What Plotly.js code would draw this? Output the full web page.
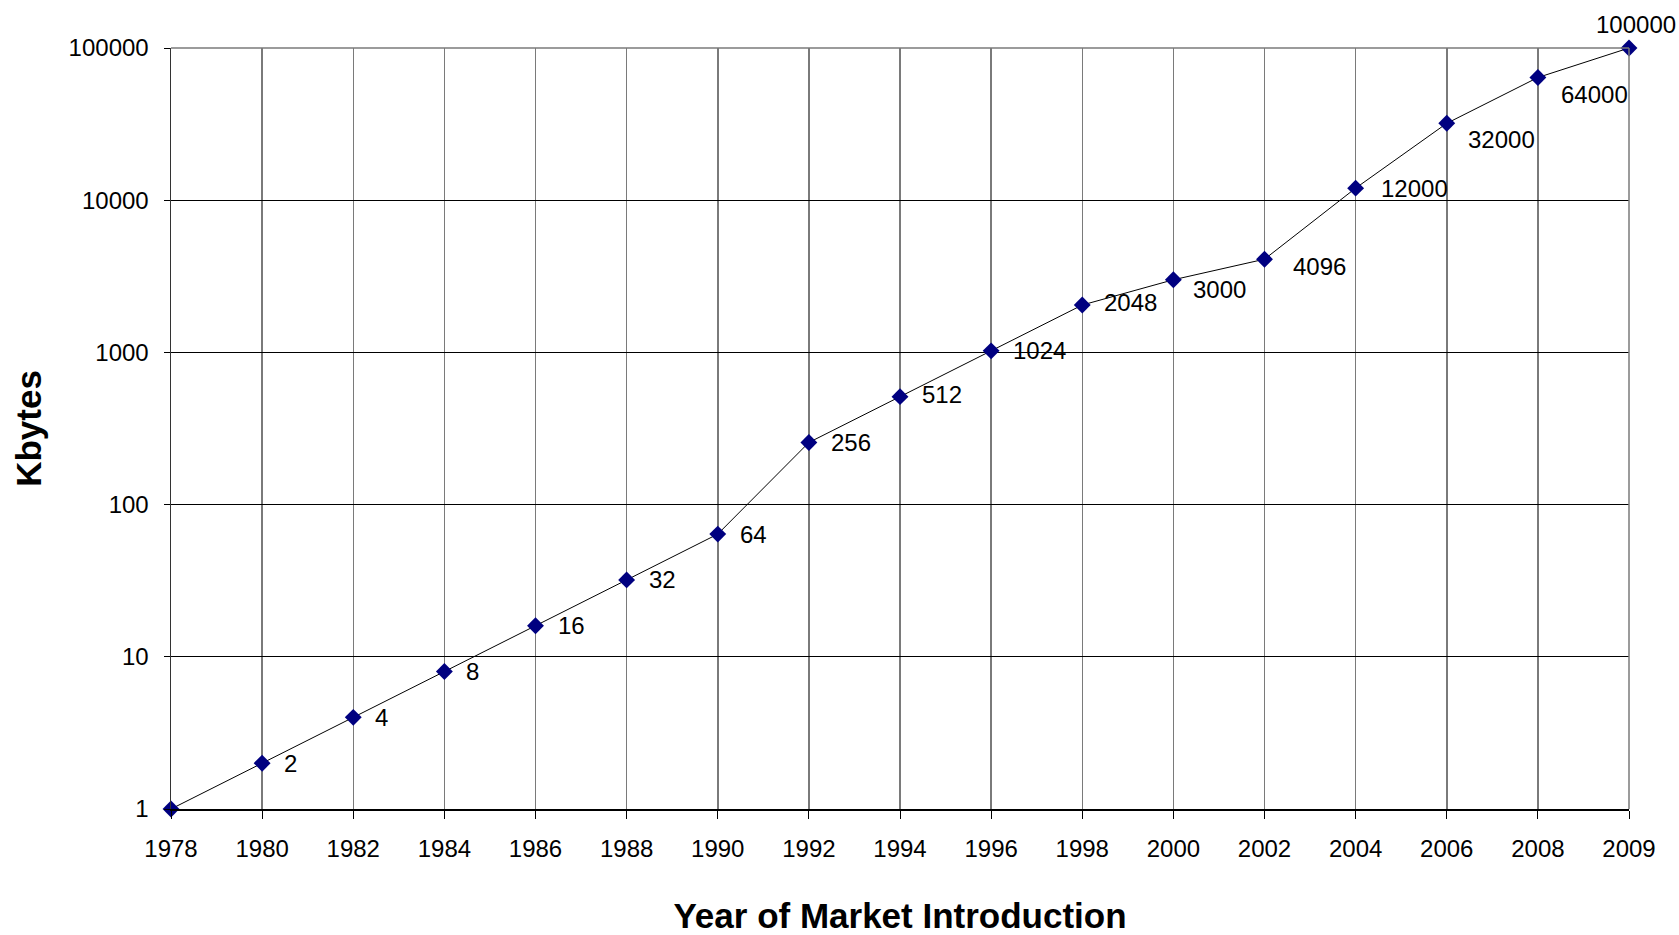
<!DOCTYPE html>
<html>
<head>
<meta charset="utf-8">
<script src="https://cdn.plot.ly/plotly-3.0.1.min.js"></script>
<style>
  html, body { margin: 0; padding: 0; background: #fff; }
  #chart { width: 1679px; height: 935px; }
</style>
</head>
<body>
<div id="chart"></div>
<script>
// ---- data ----
const years = ["1978","1980","1982","1984","1986","1988","1990","1992","1994","1996","1998","2000","2002","2004","2006","2008","2009"];
const kbytes = [1, 2, 4, 8, 16, 32, 64, 256, 512, 1024, 2048, 3000, 4096, 12000, 32000, 64000, 100000];
const yTickVals = [1, 10, 100, 1000, 10000, 100000];
const yTickText = ["1", "10", "100", "1000", "10000", "100000"];

// label nudges (style only, pixels); the first point carries no label in the reference
const labelDy = [0, 0, 0, 0, 0, 0, 0, 0, 2, 0, 3, -10, -7, 0, -16, -17, 0];
const labelDx = [20, 20, 20, 20, 20, 20, 20, 20, 20, 20, 20, 18, 26, 23, 19, 21, 0];

const FONT = '"Liberation Sans", Arial, sans-serif';
const TICK_SIZE = 24;

const annotations = [];
years.forEach((yr, i) => {
  if (i === 0) return;
  const last = i === years.length - 1;
  annotations.push({
    x: i, y: Math.log10(kbytes[i]), xref: 'x', yref: 'y',
    text: String(kbytes[i]), showarrow: false,
    xanchor: last ? 'center' : 'left', yanchor: last ? 'bottom' : 'middle',
    xshift: last ? 7 : labelDx[i], yshift: last ? 8 : labelDy[i],
    font: { family: FONT, size: TICK_SIZE, color: '#000' }
  });
});

const trace = {
  type: 'scatter', mode: 'lines+markers',
  x: years, y: kbytes,
  line: { color: '#000', width: 1 },
  marker: { symbol: 'diamond', size: 13, color: '#000080' },
  cliponaxis: false, hoverinfo: 'x+y'
};

const layout = {
  width: 1679, height: 935,
  margin: { l: 171, r: 50, t: 48, b: 126, pad: 0 },
  paper_bgcolor: '#fff', plot_bgcolor: '#fff',
  showlegend: false,
  font: { family: FONT, size: TICK_SIZE, color: '#000' },
  xaxis: {
    type: 'category', range: [0, 16],
    showgrid: true, gridcolor: '#7a7a7a', gridwidth: 1.5,
    showline: true, linecolor: '#000', linewidth: 1.5, mirror: false,
    ticks: 'outside', ticklen: 8, tickcolor: '#000', tickwidth: 1,
    tickfont: { family: FONT, size: TICK_SIZE, color: '#000' },
    ticklabelstandoff: 10,
    zeroline: false,
    title: { text: '<b>Year of Market Introduction</b>', font: { family: FONT, size: 35, color: '#000' }, standoff: 52 }
  },
  yaxis: {
    type: 'log', range: [0, 5],
    tickvals: yTickVals, ticktext: yTickText,
    showgrid: true, gridcolor: '#000', gridwidth: 1,
    showline: true, linecolor: '#333', linewidth: 1.5,
    ticks: 'outside', ticklen: 6, tickcolor: '#000', tickwidth: 1,
    tickfont: { family: FONT, size: TICK_SIZE, color: '#000' },
    ticklabelstandoff: 10,
    zeroline: false,
    title: { text: '<b>Kbytes</b>', font: { family: FONT, size: 35, color: '#000' }, standoff: 16 }
  },
  shapes: [
    { type: 'line', xref: 'paper', yref: 'paper', x0: 0, x1: 1, y0: 1, y1: 1, line: { color: '#7a7a7a', width: 1.5 } },
    { type: 'line', xref: 'paper', yref: 'paper', x0: 1, x1: 1, y0: 0, y1: 1, line: { color: '#7a7a7a', width: 1.5 } }
  ],
  annotations: annotations
};

Plotly.newPlot('chart', [trace], layout, { displayModeBar: false, staticPlot: true });
</script>
</body>
</html>
